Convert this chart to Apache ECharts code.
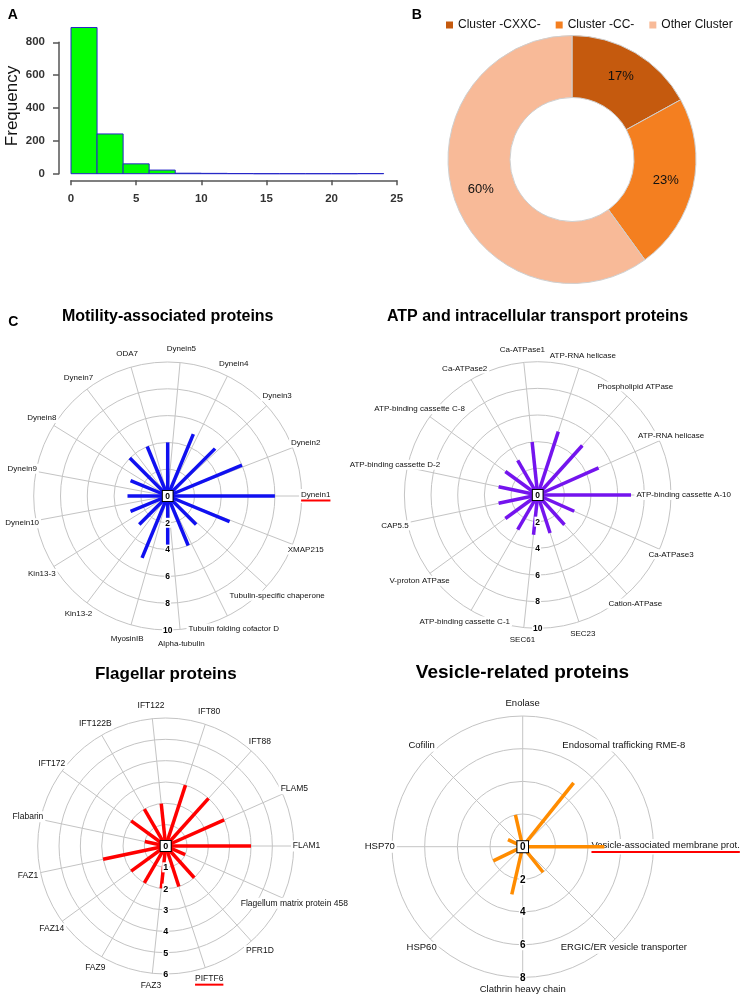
<!DOCTYPE html>
<html><head><meta charset="utf-8">
<script src="https://cdn.jsdelivr.net/npm/echarts@6/dist/echarts.min.js"></script>
<style>html,body{margin:0;padding:0;background:#fff}#c{width:742px;height:998px}</style>
</head><body><div id="c"></div>
<script>
// ---------- Panel A: histogram ----------
const histBinEdges = [0,2,4,6,8,10,12,14,16,18,20,22,24];
const histCounts   = [890,242,60,22,3,2,1,0,0,0,0,1];
const histYTicks   = [0,200,400,600,800];
const histXTicks   = [0,5,10,15,20,25];

// ---------- Panel B: donut ----------
const clusterNames  = ['Cluster -CXXC-','Cluster -CC-','Other Cluster'];
const clusterShares = [17,23,60];
const clusterColors = ['#C55A0E','#F47F20','#F8BA98'];

// ---------- Panel C: radial plots ----------
const motilityLabels = ['Dynein1','Dynein2','Dynein3','Dynein4','Dynein5','ODA7','Dynein7','Dynein8','Dynein9','Dynein10','Kin13-3','Kin13-2','MyosinIB','Alpha-tubulin','Tubulin folding cofactor D','Tubulin-specific chaperone','XMAP215'];
const motilityValues = [8,6,5,5,4,4,4,3,3,3,3,5,4,4,3,5];
const motilityTicks  = [0,2,4,6,8,10];

const atpLabels = ['ATP-binding cassette A-10','ATP-RNA helicase','Phospholipid ATPase','ATP-RNA helicase','Ca-ATPase1','Ca-ATPase2','ATP-binding cassette C-8','ATP-binding cassette D-2','CAP5.5','V-proton ATPase','ATP-binding cassette C-1','SEC61','SEC23','Cation-ATPase','Ca-ATPase3'];
const atpValues = [7,5,5,5,4,3,3,3,3,3,3,3,3,3,3];
const atpTicks  = [0,2,4,6,8,10];

const flagellarLabels = ['FLAM1','FLAM5','IFT88','IFT80','IFT122','IFT122B','IFT172','Flabarin','FAZ1','FAZ14','FAZ9','FAZ3','PIFTF6','PFR1D','Flagellum matrix protein 458'];
const flagellarValues = [4,3,3,3,2,2,2,1,3,2,2,2,2,2,1];
const flagellarTicks  = [0,1,2,3,4,5,6];

const vesicleLabels = ['Vesicle-associated membrane prot.','Endosomal trafficking RME-8','Enolase','Cofilin','HSP70','HSP60','Clathrin heavy chain','ERGIC/ER vesicle transporter'];
const vesicleValues = [5,5,2,1,2,3,2];
const vesicleTicks  = [0,2,4,6,8];

const underlinedLabels = ['Dynein1','PIFTF6','Vesicle-associated membrane prot.'];

const FONT = '"Liberation Sans", Arial, sans-serif';
const GRID = '#c4c4c4';
const AXC = '#555';

const measureCtx = document.createElement('canvas').getContext('2d');
function textWidth(t, size){ measureCtx.font = size + 'px ' + FONT; return measureCtx.measureText(t).width; }

const radars = [
  {title:'Motility-associated proteins', tpos:[167.7,317], tsize:16, labels:motilityLabels, values:motilityValues, ticks:motilityTicks,
   color:'#1010f0', center:[167.7,496], radius:134, labelR:11.05, lsize:8, tksize:8.5},
  {title:'ATP and intracellular transport proteins', tpos:[537.5,317], tsize:16, labels:atpLabels, values:atpValues, ticks:atpTicks,
   color:'#7414ee', center:[537.7,495], radius:133.3, labelR:10.95, lsize:8, tksize:8.5},
  {title:'Flagellar proteins', tpos:[165.8,674], tsize:17, labels:flagellarLabels, values:flagellarValues, ticks:flagellarTicks,
   color:'#ff0000', center:[165.7,846], radius:128, labelR:6.6, lsize:8.5, tksize:9},
  {title:'Vesicle-related proteins', tpos:[522.5,673], tsize:19, labels:vesicleLabels, values:vesicleValues, ticks:vesicleTicks,
   color:'#ff8c00', center:[522.7,846.7], radius:130.7, labelR:8.75, lsize:9.5, tksize:10}
];

const chart = echarts.init(document.getElementById('c'), null, {renderer:'canvas'});

const xMin = histXTicks[0], xMax = histXTicks[histXTicks.length-1], xItv = histXTicks[1]-histXTicks[0];
const yMin = histYTicks[0], yMax = histYTicks[histYTicks.length-1], yItv = histYTicks[1]-histYTicks[0];

const option = {
  animation:false,
  backgroundColor:'#fff',
  textStyle:{fontFamily:FONT},
  grid:[
    {left:71, right:742-396.7, top:42.3, bottom:998-173.7, outerBoundsMode:'none'},   // data
    {left:59, width:1, top:42.3, bottom:998-173.7, outerBoundsMode:'none'},           // y axis (R style, detached)
    {left:71, right:742-396.7, top:179.3, bottom:998-180.3, outerBoundsMode:'none'}   // x axis (R style, detached)
  ],
  xAxis:[
    {gridIndex:0, type:'value', min:xMin, max:xMax, show:false},
    {gridIndex:1, type:'value', min:0, max:1, show:false},
    {gridIndex:2, type:'value', min:xMin, max:xMax, interval:xItv, position:'bottom',
      axisLine:{show:true, lineStyle:{color:AXC, width:1.5}}, axisTick:{show:true, length:5, lineStyle:{color:AXC, width:1.5}},
      axisLabel:{fontSize:11.5, fontWeight:'bold', color:'#333', margin:13, fontFamily:FONT}, splitLine:{show:false}}
  ],
  yAxis:[
    {gridIndex:0, type:'value', min:yMin, max:yMax, show:false},
    {gridIndex:1, type:'value', min:yMin, max:yMax, interval:yItv, position:'left',
      axisLine:{show:true, lineStyle:{color:AXC, width:1.5}}, axisTick:{show:true, length:6, lineStyle:{color:AXC, width:1.5}},
      axisLabel:{fontSize:11.5, fontWeight:'bold', color:'#333', margin:14, fontFamily:FONT}, splitLine:{show:false}},
    {gridIndex:2, type:'value', min:0, max:1, show:false}
  ],
  legend:{data:clusterNames, left:441, top:14, icon:'rect', itemWidth:7, itemHeight:7, itemGap:15,
    itemStyle:{borderWidth:0},
    textStyle:{fontSize:12, color:'#111', fontFamily:FONT}},
  color:clusterColors,
  polar:[], angleAxis:[], radiusAxis:[],
  series:[],
  graphic:[
    {type:'text', x:12.7, y:15, style:{text:'A', font:'bold 14px '+FONT, fill:'#000', align:'center', verticalAlign:'middle'}},
    {type:'text', x:416.7, y:15, style:{text:'B', font:'bold 14px '+FONT, fill:'#000', align:'center', verticalAlign:'middle'}},
    {type:'text', x:13.3, y:321.7, style:{text:'C', font:'bold 14px '+FONT, fill:'#000', align:'center', verticalAlign:'middle'}},
    {type:'text', x:12.5, y:106, rotation:Math.PI/2, style:{text:'Frequency', font:'17px '+FONT, fill:'#111', align:'center', verticalAlign:'middle'}}
  ]
};

// histogram
option.series.push({
  type:'custom', xAxisIndex:0, yAxisIndex:0, clip:false,
  data: histCounts.map((c,i)=>[histBinEdges[i], histBinEdges[i+1], c]),
  encode:{x:[0,1], y:2},
  renderItem:(params, api)=>{
    const p0 = api.coord([api.value(0), api.value(2)]);
    const p1 = api.coord([api.value(1), 0]);
    return {type:'rect', shape:{x:p0[0], y:p0[1], width:p1[0]-p0[0], height:p1[1]-p0[1]},
      style:{fill:'#00ff00', stroke:'#2626c8', lineWidth:1}};
  }
});

// donut
option.series.push({
  type:'pie', center:[572,159.5], radius:[62,124], startAngle:90, clockwise:true,
  data: clusterNames.map((n,i)=>({name:n, value:clusterShares[i]})),
  label:{show:true, position:'inside', formatter:'{c}%', fontSize:13, color:'#111', fontFamily:FONT},
  labelLine:{show:false},
  itemStyle:{borderColor:'#cfcfcf', borderWidth:1},
  emphasis:{disabled:true}
});

radars.forEach((r, j)=>{
  const a = 2*j, b = 2*j+1;
  const max = r.ticks[r.ticks.length-1], itv = r.ticks[1]-r.ticks[0];
  const nL = r.labels.length, nB = r.values.length;
  option.polar.push({center:r.center, radius:[0, r.radius]}, {center:r.center, radius:[0, r.radius]});
  option.angleAxis.push({polarIndex:a, type:'value', min:0, max:nL, interval:1, startAngle:0, clockwise:false,
    axisLine:{show:false}, axisTick:{show:false}, axisLabel:{show:false}, splitLine:{show:true, lineStyle:{color:GRID, width:1}}});
  option.radiusAxis.push({polarIndex:a, type:'value', min:0, max:max, interval:itv,
    axisLine:{show:false}, axisTick:{show:false}, axisLabel:{show:false}, splitLine:{show:true, lineStyle:{color:GRID, width:1}}});
  option.angleAxis.push({polarIndex:b, type:'value', min:0, max:360, startAngle:270, clockwise:false,
    axisLine:{show:false}, axisTick:{show:false}, axisLabel:{show:false}, splitLine:{show:false}});
  option.radiusAxis.push({polarIndex:b, type:'value', min:0, max:max, interval:itv, z:10,
    axisLine:{show:false}, axisTick:{show:false}, splitLine:{show:false},
    axisLabel:{show:true, margin:0, align:'center', verticalAlign:'middle', color:'#000',
      formatter:(v)=> v===0 ? '{z|0}' : '{t|'+v+'}',
      rich:{
        z:{fontSize:r.tksize, fontWeight:'bold', fontFamily:FONT, color:'#000', backgroundColor:'#fff', borderColor:'#000', borderWidth:1, padding:[1,2.5,0,2.5]},
        t:{fontSize:r.tksize, fontWeight:'bold', fontFamily:FONT, color:'#000', backgroundColor:'#fff', padding:[1,1,0,1]}
      }}});
  // category labels
  option.series.push({
    type:'custom', coordinateSystem:'polar', polarIndex:a, z:3, silent:true,
    data: r.labels.map((t,i)=>[r.labelR, i]),
    renderItem:(params, api)=>{
      const p = api.coord([api.value(0), api.value(1)]);
      const name = r.labels[params.dataIndex];
      const ul = underlinedLabels.indexOf(name) >= 0;
      const w = textWidth(name, r.lsize);
      return {type:'text', x:p[0], y:p[1], style:{
        text: ul ? '{n|'+name+'}\n{u|}' : name,
        fontSize:r.lsize, fontFamily:FONT, fill:'#111', align:'center', verticalAlign:'middle',
        backgroundColor:'#fff', padding:[1,2],
        rich:{n:{fontSize:r.lsize, fontFamily:FONT, fill:'#111', lineHeight:r.lsize+1},
              u:{width:w, height:2, lineHeight:3, backgroundColor:'#ff0000'}}
      }};
    }
  });
  // radial bars
  option.series.push({
    type:'custom', coordinateSystem:'polar', polarIndex:b, z:4, silent:true,
    data: r.values.map((v,i)=>[v, i]),
    renderItem:(params, api)=>{
      const v = api.value(0), k = api.value(1);
      const ang = (k*360/nB + 90) % 360;
      const p0 = api.coord([0, ang]), p1 = api.coord([v, ang]);
      return {type:'line', shape:{x1:p0[0], y1:p0[1], x2:p1[0], y2:p1[1]}, style:{stroke:r.color, lineWidth:3.5}};
    }
  });
  option.graphic.push({type:'text', x:r.tpos[0], y:r.tpos[1], style:{text:r.title, font:'bold '+r.tsize+'px '+FONT, fill:'#000', align:'center', verticalAlign:'middle'}});
});

chart.setOption(option);
</script>
</body></html>
